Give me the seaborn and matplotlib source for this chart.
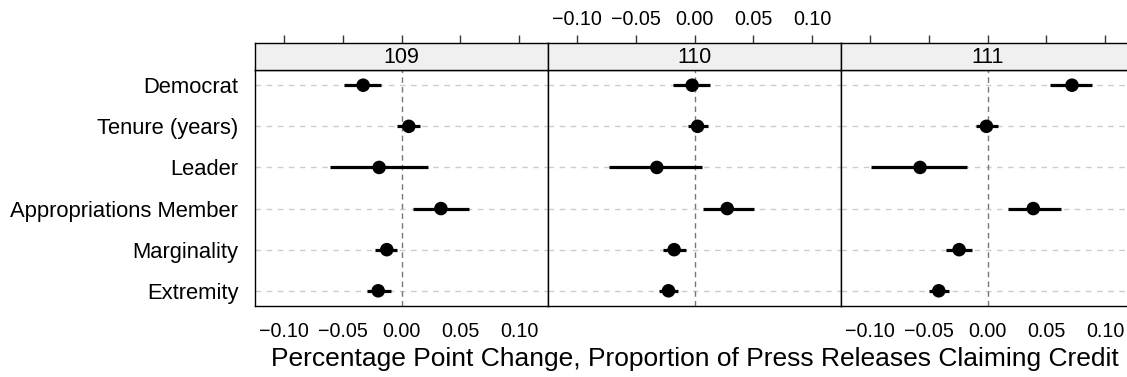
"""
Dotplot of marginal effects on credit claiming, by Congress (109-111)
"""

import matplotlib
matplotlib.use("Agg")
import matplotlib.pyplot as plt
import seaborn as sns
import pandas as pd

# Data
variables = ["Democrat", "Tenure (years)", "Leader", "Appropriations Member",
             "Marginality", "Extremity"]
congresses = ["109", "110", "111"]

est_109 = [-0.0326, 0.0062, -0.0190, 0.0335, -0.0125, -0.0198]
lo_109 = [-0.0485, -0.0037, -0.0610, 0.0099, -0.0224, -0.0292]
hi_109 = [-0.0173, 0.0156, 0.0224, 0.0576, -0.0037, -0.0091]

est_110 = [-0.0020, 0.0026, -0.0320, 0.0278, -0.0173, -0.0221]
lo_110 = [-0.0182, -0.0057, -0.0726, 0.0068, -0.0270, -0.0304]
hi_110 = [0.0130, 0.0113, 0.0065, 0.0508, -0.0071, -0.0139]

est_111 = [0.0718, -0.0009, -0.0573, 0.0389, -0.0241, -0.0414]
lo_111 = [0.0533, -0.0096, -0.0987, 0.0176, -0.0355, -0.0499]
hi_111 = [0.0888, 0.0085, -0.0173, 0.0621, -0.0130, -0.0326]

x_ticks = [-0.10, -0.05, 0.00, 0.05, 0.10]
x_tick_labels = ["\u22120.10", "\u22120.05", "0.00", "0.05", "0.10"]
x_label = "Percentage Point Change, Proportion of Press Releases Claiming Credit"


def main():
    rows = []
    for cong, est, lo, hi in zip(congresses,
                                 [est_109, est_110, est_111],
                                 [lo_109, lo_110, lo_111],
                                 [hi_109, hi_110, hi_111]):
        for i, v in enumerate(variables):
            rows.append({"congress": cong, "variable": v, "pos": i,
                         "est": est[i], "lo": lo[i], "hi": hi[i]})
    df = pd.DataFrame(rows)

    sns.set_style("white")
    plt.rcParams["font.family"] = ["Liberation Sans", "DejaVu Sans"]
    plt.rcParams["text.color"] = "black"
    plt.rcParams["xtick.labelcolor"] = "black"
    plt.rcParams["ytick.labelcolor"] = "black"

    W, H = 1127, 377
    fig = plt.figure(figsize=(W / 100, H / 100), dpi=100)

    # panel geometry in pixels (lattice-like layout, right panel is cropped)
    panel_left = [255, 548, 841]
    panel_w = 293
    panel_top, panel_bot = 70, 306
    strip_top = 43
    fs_x, fs_y, fs_strip = 14.2, 15.8, 15.5

    for k, cong in enumerate(congresses):
        sub = df[df["congress"] == cong]
        ax = fig.add_axes([panel_left[k] / W, (H - panel_bot) / H,
                           panel_w / W, (panel_bot - panel_top) / H])
        sax = fig.add_axes([panel_left[k] / W, (H - panel_top) / H,
                            panel_w / W, (panel_top - strip_top) / H])

        # reference grid lines
        for p in range(len(variables)):
            ax.axhline(p, color="#cccccc", lw=1, ls=(0, (4, 4)), zorder=0)
        ax.axvline(0, color="#777777", lw=1, ls=(0, (4, 3)), zorder=1)

        ax.hlines(sub["pos"], sub["lo"], sub["hi"], color="black", lw=2.3,
                  zorder=2)
        sns.scatterplot(data=sub, x="est", y="pos", ax=ax, color="black",
                        s=95, edgecolor="none", zorder=3, legend=False)

        ax.set_xlim(-0.1245, 0.1245)
        ax.set_ylim(len(variables) - 1 + 0.37, -0.37)
        ax.set_xlabel("")
        ax.set_ylabel("")
        ax.set_xticks(x_ticks)
        ax.set_yticks(range(len(variables)))
        ax.tick_params(axis="x", direction="out", length=6.5, width=1,
                       color="#333333", labelsize=fs_x, pad=5)
        ax.tick_params(axis="y", direction="out", length=5, width=1,
                       color="#555555", labelsize=fs_y, pad=7)
        if k == 1:
            ax.set_xticklabels([])
        else:
            ax.set_xticklabels(x_tick_labels)
        if k == 0:
            ax.set_yticklabels(variables)
        else:
            ax.set_yticks([])
        for s in ax.spines.values():
            s.set_color("black")
            s.set_linewidth(1)
            s.set_visible(True)

        # strip
        sax.set_facecolor("#f0f0f0")
        sax.set_xlim(-0.1245, 0.1245)
        sax.set_ylim(0, 1)
        sax.set_yticks([])
        sax.xaxis.tick_top()
        sax.set_xticks(x_ticks)
        sax.tick_params(axis="x", direction="out", length=6, width=1,
                        color="#333333", labelsize=fs_x, pad=4)
        if k == 1:
            sax.set_xticklabels(x_tick_labels)
        else:
            sax.set_xticklabels([])
        for s in sax.spines.values():
            s.set_color("black")
            s.set_linewidth(1)
            s.set_visible(True)
        sax.text(0.5, 0.45, cong, transform=sax.transAxes, ha="center",
                 va="center", fontsize=fs_strip)

    fig.text((548 + panel_w / 2) / W, (H - 359) / H, x_label,
             ha="center", va="center", fontsize=19)

    fig.savefig("out.png", dpi=100)
    plt.close(fig)


if __name__ == "__main__":
    main()
